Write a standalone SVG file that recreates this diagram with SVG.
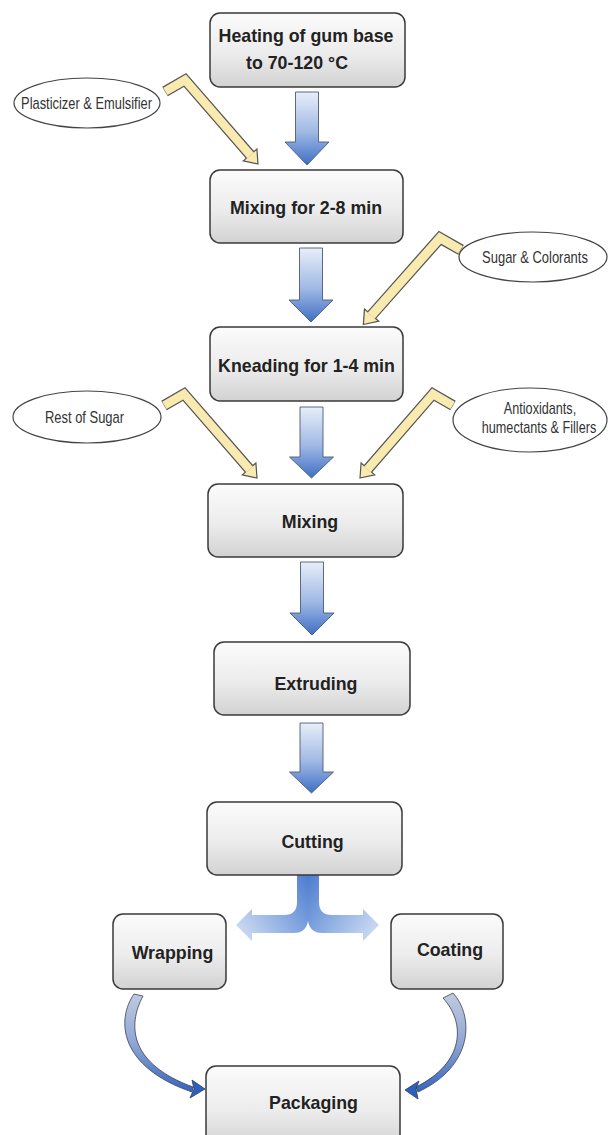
<svg xmlns="http://www.w3.org/2000/svg" width="609" height="1135" viewBox="0 0 609 1135">
<defs>
<linearGradient id="boxg" x1="0" y1="0" x2="0" y2="1">
<stop offset="0" stop-color="#fbfbfb"/>
<stop offset="0.55" stop-color="#ececec"/>
<stop offset="1" stop-color="#d2d2d2"/>
</linearGradient>
<linearGradient id="blueg" x1="0" y1="0" x2="0" y2="1">
<stop offset="0" stop-color="#e8eef8"/>
<stop offset="0.55" stop-color="#9fb8e4"/>
<stop offset="1" stop-color="#3f6fc4"/>
</linearGradient>
<linearGradient id="splitL" gradientUnits="userSpaceOnUse" x1="308" y1="878" x2="236" y2="925">
<stop offset="0" stop-color="#4f7fd0"/>
<stop offset="0.5" stop-color="#8eaee2"/>
<stop offset="1" stop-color="#cad9f2"/>
</linearGradient>
<linearGradient id="splitR" gradientUnits="userSpaceOnUse" x1="308" y1="878" x2="379" y2="925">
<stop offset="0" stop-color="#4f7fd0"/>
<stop offset="0.5" stop-color="#8eaee2"/>
<stop offset="1" stop-color="#cad9f2"/>
</linearGradient>
<linearGradient id="curveg" gradientUnits="userSpaceOnUse" x1="0" y1="992" x2="0" y2="1095">
<stop offset="0" stop-color="#c2cbe0"/>
<stop offset="0.5" stop-color="#8fa6d4"/>
<stop offset="1" stop-color="#2f5fbd"/>
</linearGradient>
<g id="bent">
<path d="M-20,11.6 L0,0 L65.1,74.9" fill="none" stroke="#555" stroke-width="11" stroke-linejoin="miter"/>
<polygon points="73,84 58.3,80.8 71.9,69" fill="#f9eab0" stroke="#555" stroke-width="1.2" stroke-linejoin="miter"/>
<path d="M-19.6,11.4 L0,0 L65.6,75.5" fill="none" stroke="#f9eab0" stroke-width="8.6" stroke-linejoin="miter"/>
</g>
</defs>
<style>
.box{fill:url(#boxg);stroke:#3a3a3a;stroke-width:1.5}
.lbl{font-family:"Liberation Sans",Arial,sans-serif;font-weight:bold;font-size:17.8px;fill:#222;text-anchor:middle}
.ell{fill:#fff;stroke:#444;stroke-width:1.2}
.etx{font-family:"Liberation Sans",Arial,sans-serif;font-size:16px;fill:#333;text-anchor:middle}
.down{fill:url(#blueg);stroke:#4a5a78;stroke-width:0.9}
.curve{fill:url(#curveg);stroke:#3a3f50;stroke-width:0.8}
</style>
<rect width="609" height="1135" fill="#fff"/>

<g id="connectors">
<path class="down" d="M295.5,92 H318.5 V142 H329 L307,165 L285,142 H295.5 Z"/>
<path class="down" d="M299.5,248 H322.5 V300 H333 L311,322 L289,300 H299.5 Z"/>
<path class="down" d="M300,407 H323 V457 H333.5 L311.5,478 L289.5,457 H300 Z"/>
<path class="down" d="M300.5,562 H323.5 V613 H334 L312,635 L290,613 H300.5 Z"/>
<path class="down" d="M300,723 H323 V772 H333.5 L311.5,793 L289.5,772 H300 Z"/>
<use href="#bent" transform="translate(185,80)"/>
<use href="#bent" transform="translate(440,238) scale(-1.05,1.03)"/>
<use href="#bent" transform="translate(184,394)"/>
<use href="#bent" transform="translate(433,394) scale(-1,1)"/>
<path d="M308,875 L297,875 L297,902 Q297,915 284,915 L252,915 L252,909 L236,925 L252,941 L252,933 L294,933 Q306,933 308,921 Z" fill="url(#splitL)"/>
<path d="M308,875 L319,875 L319,902 Q319,915 332,915 L363,915 L363,909 L379,925 L363,941 L363,933 L322,933 Q310,933 308,921 Z" fill="url(#splitR)"/>
<path class="curve" d="M134,994 C116,1020 119,1067 192,1092 L193,1087 C130,1064 127,1026 143,996 Z"/>
<path d="M205,1089 L192,1080 L194,1089 L190,1098 Z" fill="#2f5fbd" stroke="#2a3a60" stroke-width="0.8"/>
<path class="curve" d="M453,993 C474,1016 474,1066 418,1092 L416,1087 C466,1062 465,1022 443,998 Z"/>
<path d="M405,1090 L419,1081 L416,1089 L418,1099 Z" fill="#2f5fbd" stroke="#2a3a60" stroke-width="0.8"/>
</g>

<g id="n-heating">
<rect class="box" x="210" y="13" width="195" height="74" rx="10"/>
<text class="lbl" x="306" y="41.5" font-size="18.6">Heating of gum base</text>
<text class="lbl" x="297" y="68.5" font-size="18.6">to 70-120 °C</text>
</g>
<g id="n-mixing1">
<rect class="box" x="210" y="170" width="193" height="73" rx="10"/>
<text class="lbl" x="306" y="213.5">Mixing for 2-8 min</text>
</g>
<g id="n-kneading">
<rect class="box" x="210" y="327" width="193" height="74" rx="10"/>
<text class="lbl" x="306.5" y="371.5">Kneading for 1-4 min</text>
</g>
<g id="n-mixing2">
<rect class="box" x="208" y="484" width="195" height="73" rx="10"/>
<text class="lbl" x="310" y="528">Mixing</text>
</g>
<g id="n-extruding">
<rect class="box" x="214" y="642" width="196" height="73" rx="10"/>
<text class="lbl" x="316" y="689.5">Extruding</text>
</g>
<g id="n-cutting">
<rect class="box" x="207" y="802" width="195" height="73" rx="10"/>
<text class="lbl" x="312.5" y="848">Cutting</text>
</g>
<g id="n-wrapping">
<rect class="box" x="113" y="914" width="113" height="75" rx="10"/>
<text class="lbl" x="172.5" y="959">Wrapping</text>
</g>
<g id="n-coating">
<rect class="box" x="391" y="914" width="112" height="75" rx="10"/>
<text class="lbl" x="450" y="956">Coating</text>
</g>
<g id="n-packaging">
<rect class="box" x="206" y="1066" width="194" height="82" rx="10"/>
<text class="lbl" x="313.5" y="1109">Packaging</text>
</g>

<g id="i-plasticizer">
<ellipse class="ell" cx="87" cy="103" rx="73" ry="25"/>
<text class="etx" transform="translate(86.5,108.5) scale(0.805,1)">Plasticizer &amp; Emulsifier</text>
</g>
<g id="i-sugar">
<ellipse class="ell" cx="533" cy="257" rx="74" ry="25"/>
<text class="etx" transform="translate(535,262.5) scale(0.81,1)">Sugar &amp; Colorants</text>
</g>
<g id="i-rest">
<ellipse class="ell" cx="87" cy="417" rx="74" ry="26"/>
<text class="etx" transform="translate(84.5,423) scale(0.81,1)">Rest of Sugar</text>
</g>
<g id="i-antiox">
<ellipse class="ell" cx="530" cy="420" rx="77" ry="32"/>
<text class="etx" transform="translate(540,413.5) scale(0.79,1)">Antioxidants,</text>
<text class="etx" transform="translate(539,432.5) scale(0.79,1)">humectants &amp; Fillers</text>
</g>
</svg>
